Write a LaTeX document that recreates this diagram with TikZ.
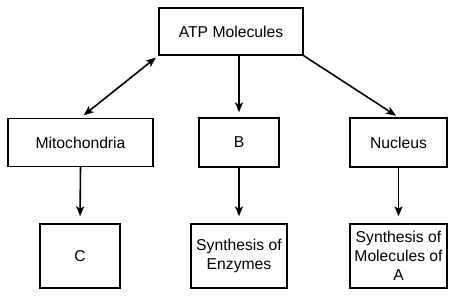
\documentclass[tikz,border=0pt]{standalone}
\usepackage{fontspec}
\setmainfont{Liberation Sans}
\usetikzlibrary{arrows.meta}
\begin{document}
\begin{tikzpicture}[x=1pt,y=-1pt,
  box/.style={draw,line width=1.4pt,inner sep=0pt,align=center,font=\fontsize{15.7}{19}\selectfont},
  tip/.style={Stealth[length=10pt,width=8pt,inset=2.5pt]},
  arr/.style={line width=1.6pt,-{Stealth[length=10pt,width=8pt,inset=2.5pt]}},
  darr/.style={line width=1.6pt,{Stealth[length=10pt,width=8pt,inset=2.5pt]}-{Stealth[length=10pt,width=8pt,inset=2.5pt]}}]
\useasboundingbox (0,0) rectangle (455,297);
\node[box,minimum width=144pt,minimum height=47pt] (atp) at (231,31.5) {ATP Molecules};
\node[box,minimum width=145pt,minimum height=48pt] (mito) at (80.5,142.5) {Mitochondria};
\node[box,minimum width=80pt,minimum height=49pt] (b) at (239,142.5) {B};
\node[box,minimum width=97pt,minimum height=49pt] (nuc) at (398.5,142.5) {Nucleus};
\node[box,minimum width=80pt,minimum height=64pt] (c) at (80,256) {C};
\node[box,minimum width=96pt,minimum height=64pt] (enz) at (239,256) {Synthesis of\\Enzymes};
\node[box,minimum width=97pt,minimum height=64pt] (mola) at (398.5,256) {Synthesis of\\Molecules of\\A};
\draw[darr,shorten <=3pt,shorten >=4pt] (atp.south west) -- (mito.north);
\draw[arr,shorten >=5pt] (atp.south -| b.north) -- (b.north);
\draw[arr,shorten >=3pt] (atp.south east) -- (nuc.north);
\draw[arr,shorten >=7pt] (mito.south) -- (c.north);
\draw[arr,shorten >=7pt] (b.south) -- (enz.north);
\draw[arr,shorten >=7pt] (nuc.south) -- (mola.north);
\end{tikzpicture}
\end{document}
